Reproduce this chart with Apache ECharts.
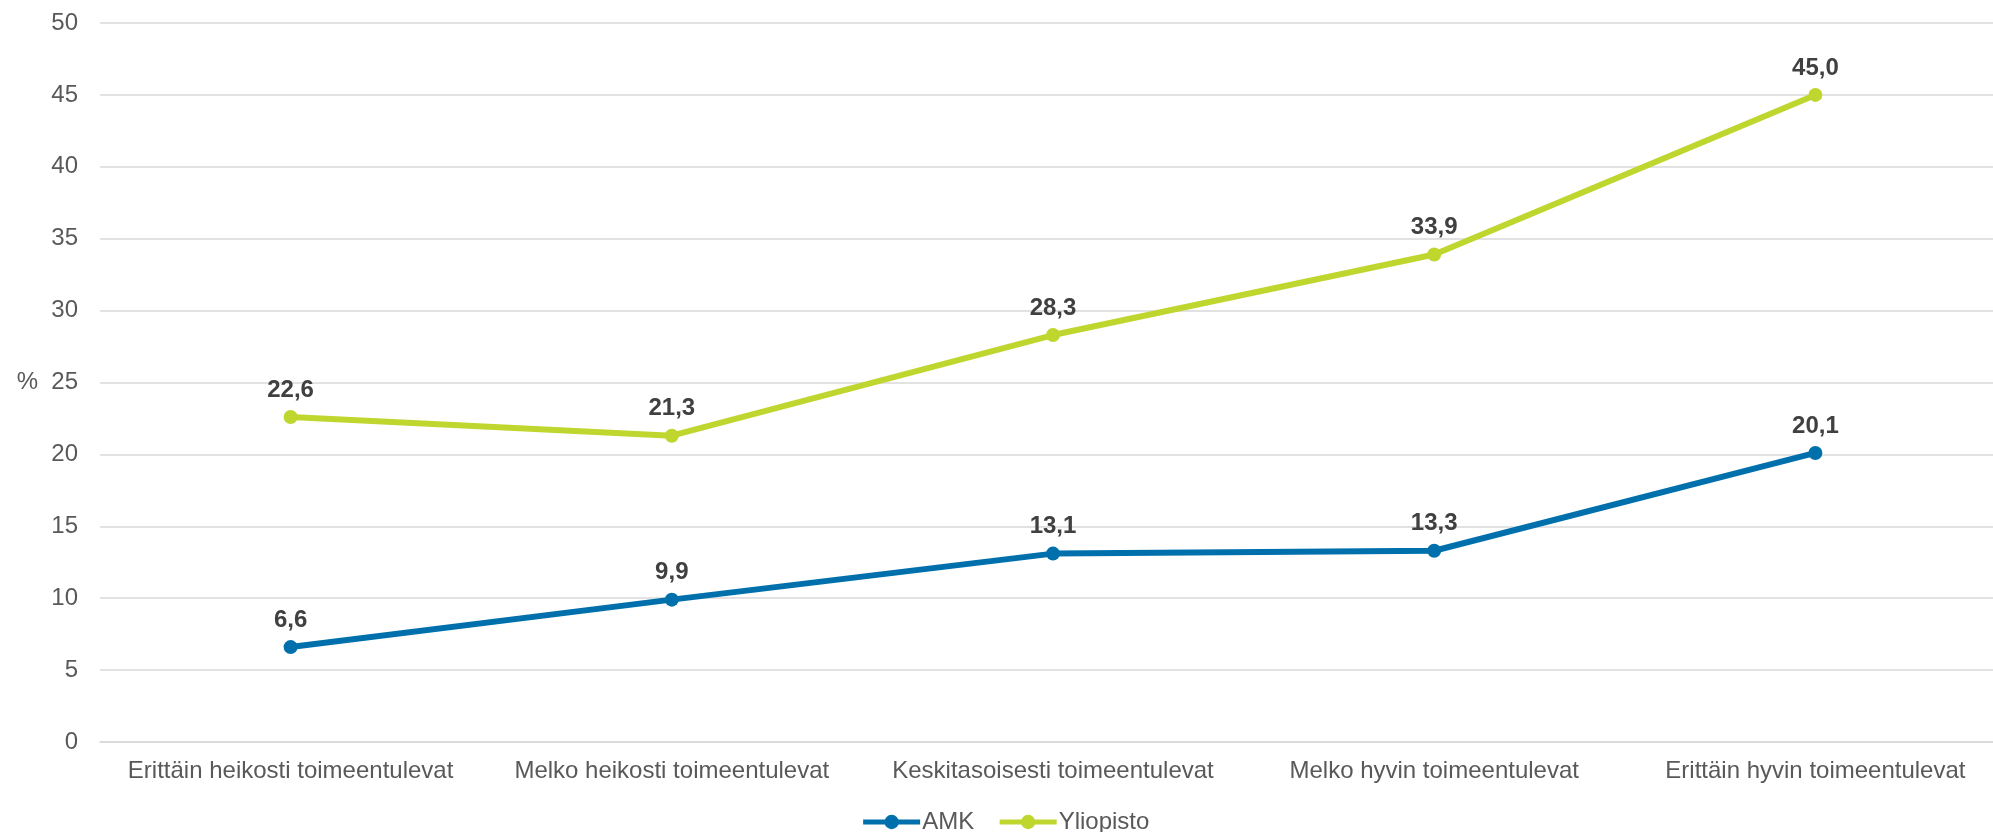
<!DOCTYPE html>
<html>
<head>
<meta charset="utf-8">
<script src="https://cdn.jsdelivr.net/npm/echarts@6/dist/echarts.min.js"></script>
<style>html,body{margin:0;padding:0;background:#fff;overflow:hidden}#c{width:2010px;height:832px}</style>
</head>
<body>
<div id="c"></div>
<script>
var categories = ['Erittäin heikosti toimeentulevat','Melko heikosti toimeentulevat','Keskitasoisesti toimeentulevat','Melko hyvin toimeentulevat','Erittäin hyvin toimeentulevat'];
var amk = [6.6, 9.9, 13.1, 13.3, 20.1];
var yliopisto = [22.6, 21.3, 28.3, 33.9, 45.0];
var yTicks = {min: 0, max: 50, interval: 5};

var font = '"Liberation Sans", Arial, sans-serif';
function fmt(p){ return p.value.toFixed(1).replace('.', ','); }
function series(name, data, color){
  return {
    name: name, type: 'line', data: data,
    symbol: 'circle', symbolSize: 14,
    lineStyle: {width: 6, color: color},
    itemStyle: {color: color},
    label: {show: true, position: 'top', distance: 8, formatter: fmt,
      fontFamily: font, fontSize: 24, fontWeight: 'bold', color: '#404040'},
    emphasis: {disabled: true}
  };
}
var chart = echarts.init(document.getElementById('c'));
chart.setOption({
  animation: false,
  grid: {left: 100, right: 4, top: 23, bottom: 90, containLabel: false},
  legend: {
    top: 805, left: 'center', itemWidth: 57, itemHeight: 18, itemGap: 23,
    lineStyle: {width: 5},
    textStyle: {fontFamily: font, fontSize: 24, color: '#595959', padding: [0,0,0,-3]},
    data: ['AMK', 'Yliopisto']
  },
  xAxis: {
    type: 'category', data: categories, boundaryGap: true,
    axisLine: {show: true, lineStyle: {color: '#D9D9D9', width: 1.5}},
    axisTick: {show: false},
    axisLabel: {margin: 17, fontFamily: font, fontSize: 24, color: '#595959', interval: 0}
  },
  yAxis: {
    type: 'value', min: yTicks.min, max: yTicks.max, interval: yTicks.interval,
    name: '%', nameLocation: 'middle', nameRotate: 0, nameGap: 62,
    nameTextStyle: {fontFamily: font, fontSize: 24, color: '#595959'},
    axisLine: {show: false}, axisTick: {show: false},
    axisLabel: {margin: 22, fontFamily: font, fontSize: 24, color: '#595959'},
    splitLine: {lineStyle: {color: '#D9D9D9', width: 1.5}}
  },
  series: [series('AMK', amk, '#0070AD'), series('Yliopisto', yliopisto, '#BFD62F')]
});
</script>
</body>
</html>
